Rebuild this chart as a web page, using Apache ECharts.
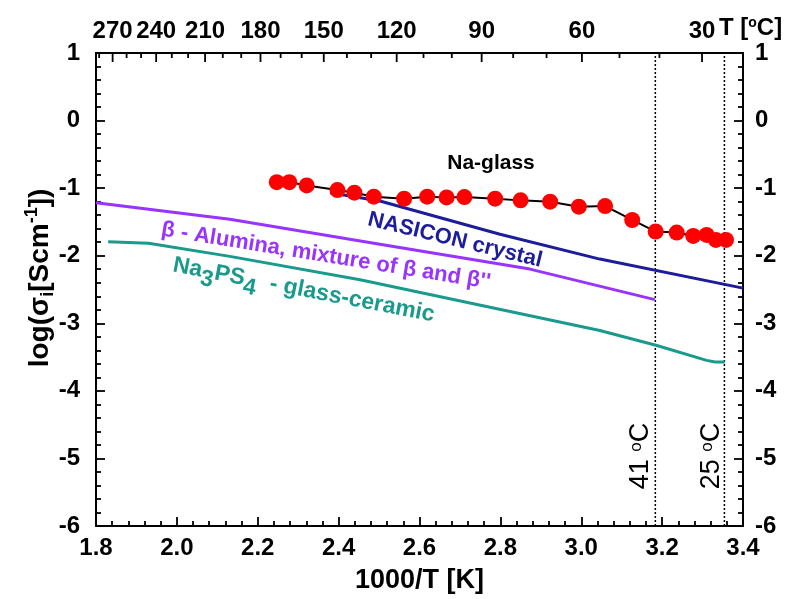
<!DOCTYPE html>
<html><head><meta charset="utf-8">
<script src="https://cdn.jsdelivr.net/npm/echarts@6/dist/echarts.min.js"></script>
<style>html,body{margin:0;padding:0;background:#fff}#c{width:786px;height:599px}</style>
</head><body><div id="c"></div>
<script>
// ---- data ----
const naGlassX = [2.247,2.278,2.321,2.397,2.439,2.487,2.562,2.619,2.667,2.711,2.787,2.850,2.923,2.994,3.059,3.126,3.184,3.236,3.277,3.310,3.333,3.358];
const naGlassY = [-0.911,-0.911,-0.960,-1.029,-1.067,-1.126,-1.156,-1.126,-1.137,-1.132,-1.156,-1.181,-1.200,-1.274,-1.265,-1.471,-1.642,-1.657,-1.707,-1.692,-1.766,-1.766];
const nasiconX = [2.379,2.502,2.799,3.046,3.400];
const nasiconY = [-1.067,-1.191,-1.682,-2.050,-2.480];
const aluminaX = [1.800,2.131,2.502,2.873,3.182];
const aluminaY = [-1.215,-1.461,-1.829,-2.198,-2.650];
const na3ps4X = [1.830,1.930,2.131,2.453,3.046,3.187,3.310,3.331,3.355];
const na3ps4Y = [-1.795,-1.815,-2.010,-2.355,-3.107,-3.328,-3.549,-3.573,-3.573];
const topTempLabels = [270,240,210,180,150,120,90,60,30];
const topTempMinor = [280,260,250,230,220,200,190,170,160,140,130,110,100,80,70,50,40];
const markerTemps = [41,25];
const yRange = [-6, 1];

const FONT = "'Liberation Sans', Arial, sans-serif";
const toInvT = t => 1000 / (t + 273.15);
const zip = (a, b) => a.map((v, i) => [v, b[i]]);

const chart = echarts.init(document.getElementById('c'), null, {renderer: 'canvas'});
const tickStyle = {color: '#000', width: 1.8};
const lblStyle = {fontSize: 24, fontWeight: 'bold', color: '#000', fontFamily: FONT};

const vSeries = markerTemps.map(t => ({
  type: 'line', xAxisIndex: 0, yAxisIndex: 0, symbol: 'none', silent: true,
  data: [[toInvT(t), yRange[0]], [toInvT(t), yRange[1]]],
  lineStyle: {color: '#000', width: 1.5, type: [2, 2]}, z: 1
}));

// top temperature-scale ticks drawn through the x/y scales
const topTickData = topTempLabels.map(t => [toInvT(t), 9]).concat(topTempMinor.map(t => [toInvT(t), 5]));
const topTickSeries = {
  type: 'custom', xAxisIndex: 0, yAxisIndex: 0, silent: true, clip: false, z: 5,
  data: topTickData,
  renderItem: (params, api) => {
    const p = api.coord([api.value(0), yRange[1]]);
    return {type: 'line', shape: {x1: p[0], y1: p[1], x2: p[0], y2: p[1] + api.value(1)},
            style: {stroke: '#000', lineWidth: 1.8}};
  }
};

function subRich(color, size, subSize, shift) {
  return {
    b: {font: 'bold ' + size + 'px ' + FONT, fill: color, lineHeight: size, height: size, verticalAlign: 'top'},
    sub: {font: 'bold ' + subSize + 'px ' + FONT, fill: color, lineHeight: size + shift, height: size, verticalAlign: 'bottom'}
  };
}

const option = {
  animation: false,
  backgroundColor: '#fff',
  grid: {left: 96, right: 43, top: 53, bottom: 71, containLabel: false},
  xAxis: [
    {type: 'value', position: 'bottom', min: 1.8, max: 3.4, interval: 0.2,
     axisLine: {show: true, onZero: false, lineStyle: {color: '#000', width: 2}},
     axisTick: {show: true, inside: true, length: 9, lineStyle: tickStyle},
     minorTick: {show: true, splitNumber: 5, length: 5, lineStyle: tickStyle},
     splitLine: {show: false},
     axisLabel: Object.assign({formatter: v => v.toFixed(1), margin: 10, showMinLabel: true, showMaxLabel: true}, lblStyle),
     name: '1000/T [K]', nameLocation: 'middle', nameGap: 41,
     nameTextStyle: {fontSize: 27, fontWeight: 'bold', color: '#000', fontFamily: FONT}},
    {type: 'value', position: 'top', min: 1.8, max: 3.4,
     axisLine: {show: true, onZero: false, lineStyle: {color: '#000', width: 2}},
     axisTick: {show: false},
     splitLine: {show: false},
     axisLabel: Object.assign({customValues: topTempLabels.map(toInvT), formatter: v => String(Math.round(1000 / v - 273.15)), margin: 10}, lblStyle)}
  ],
  yAxis: [
    {type: 'value', position: 'left', min: yRange[0], max: yRange[1], interval: 1,
     axisLine: {show: true, onZero: false, lineStyle: {color: '#000', width: 2}},
     axisTick: {show: true, inside: true, length: 9, lineStyle: tickStyle},
     minorTick: {show: true, splitNumber: 5, length: 5, lineStyle: tickStyle},
     splitLine: {show: false},
     axisLabel: Object.assign({margin: 16}, lblStyle)},
    {type: 'value', position: 'right', min: yRange[0], max: yRange[1], interval: 1,
     axisLine: {show: true, onZero: false, lineStyle: {color: '#000', width: 2}},
     axisTick: {show: true, inside: true, length: 9, lineStyle: tickStyle},
     minorTick: {show: true, splitNumber: 5, length: 5, lineStyle: tickStyle},
     splitLine: {show: false},
     axisLabel: Object.assign({margin: 12}, lblStyle)}
  ],
  series: [
    ...vSeries,
    topTickSeries,
    {name: 'Na3PS4', type: 'line', symbol: 'none', data: zip(na3ps4X, na3ps4Y),
     lineStyle: {color: '#1a9a8c', width: 3, join: 'round'}, z: 2},
    {name: 'Alumina', type: 'line', symbol: 'none', data: zip(aluminaX, aluminaY),
     lineStyle: {color: '#9933ff', width: 3, join: 'round'}, z: 2},
    {name: 'NASICON', type: 'line', symbol: 'none', data: zip(nasiconX, nasiconY),
     lineStyle: {color: '#1c1c9c', width: 3, join: 'round'}, z: 2},
    {name: 'Na-glass', type: 'line', symbol: 'circle', symbolSize: 16, data: zip(naGlassX, naGlassY),
     lineStyle: {color: '#000', width: 2}, itemStyle: {color: '#ff0000'}, z: 3}
  ],
  graphic: [
    {type: 'text', x: 40, y: 278, rotation: Math.PI / 2,
     style: {text: '{b|log(σ}{sub|i}{b|[Scm}{sup|-1}{b|])}', align: 'center', verticalAlign: 'middle',
       font: "bold 28px " + FONT, fill: '#000',
       rich: {b: {font: "bold 28px " + FONT, fill: '#000', lineHeight: 28, height: 28, verticalAlign: 'middle'},
              sub: {font: "bold 18px " + FONT, fill: '#000', verticalAlign: 'bottom', lineHeight: 34, height: 18},
              sup: {font: "bold 18px " + FONT, fill: '#000', verticalAlign: 'top', lineHeight: 34, height: 18}}}},
    {type: 'text', x: 719, y: 28,
     style: {text: 'T [{s|o}C]', align: 'left', verticalAlign: 'middle', font: "bold 24px " + FONT, fill: '#000',
       rich: {s: {font: "bold 14px " + FONT, fill: '#000', verticalAlign: 'top', lineHeight: 14}}}},
    {type: 'text', x: 491, y: 163,
     style: {text: 'Na-glass', align: 'center', verticalAlign: 'middle', font: "bold 21px " + FONT, fill: '#000'}},
    {type: 'text', x: 455, y: 240, rotation: -13.6 * Math.PI / 180,
     style: {text: 'NASICON crystal', align: 'center', verticalAlign: 'middle', font: "bold 22px " + FONT, fill: '#1c1c9c'}},
    {type: 'text', x: 326, y: 256, rotation: -9.2 * Math.PI / 180,
     style: {text: "β - Alumina, mixture of β and β''", align: 'center', verticalAlign: 'middle', font: "bold 22px " + FONT, fill: '#9933ff'}},
    {type: 'text', x: 303, y: 294, rotation: -10.9 * Math.PI / 180,
     style: {text: '{b|Na}{sub|3}{b|PS}{sub|4}{b|  - glass-ceramic}', align: 'center', verticalAlign: 'middle', font: "bold 23px " + FONT, fill: '#1a9a8c',
       rich: subRich('#1a9a8c', 23, 23, 8)}},
    {type: 'text', x: 641, y: 456, rotation: Math.PI / 2,
     style: {text: '41 {s|o}C', align: 'center', verticalAlign: 'middle', font: "27px " + FONT, fill: '#000',
       rich: {s: {font: "17px " + FONT, fill: '#000', verticalAlign: 'top', lineHeight: 16}}}},
    {type: 'text', x: 712, y: 456, rotation: Math.PI / 2,
     style: {text: '25 {s|o}C', align: 'center', verticalAlign: 'middle', font: "27px " + FONT, fill: '#000',
       rich: {s: {font: "17px " + FONT, fill: '#000', verticalAlign: 'top', lineHeight: 16}}}}
  ]
};
chart.setOption(option);
</script>
</body></html>
